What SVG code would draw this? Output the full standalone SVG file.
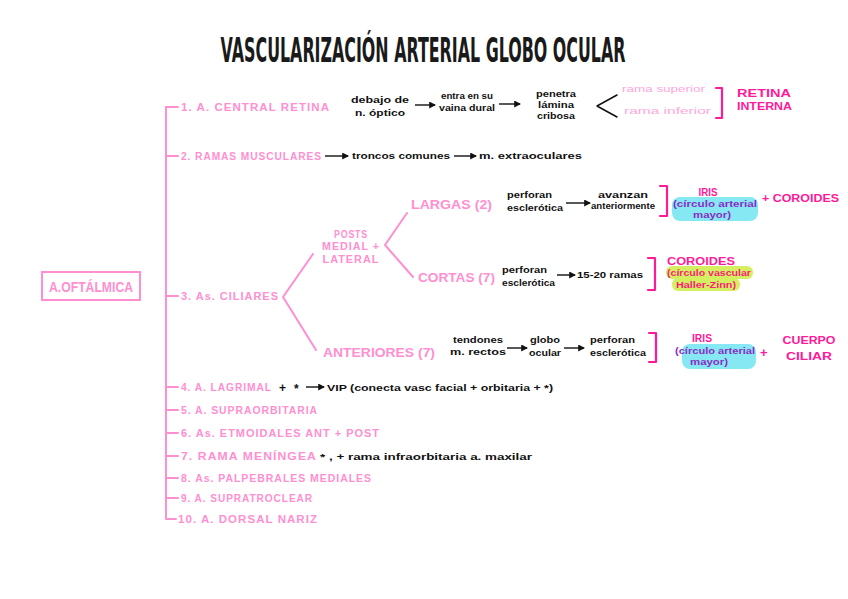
<svg xmlns="http://www.w3.org/2000/svg" width="848" height="599" viewBox="0 0 848 599">
<defs>
<style>
.bg{fill:#ffffff}
.title{font-family:"DejaVu Sans","Liberation Sans",sans-serif;font-size:34px;font-weight:bold;fill:#1a1a1a}
.lbl{font-family:"Liberation Sans",Arial,sans-serif;font-size:11px;font-weight:bold;fill:#ff8fd0;letter-spacing:1px}
.root{font-family:"Liberation Sans",Arial,sans-serif;font-size:14px;font-weight:bold;fill:#ff8fd0}
.lbl2{font-family:"Liberation Sans",Arial,sans-serif;font-size:13px;font-weight:bold;fill:#ff8fd0}
.note{font-family:"Liberation Sans",Arial,sans-serif;font-size:9px;font-weight:bold;fill:#111111}
.noteL{font-family:"Liberation Sans",Arial,sans-serif;font-size:12px;font-weight:bold;fill:#111111}
.light{font-family:"Liberation Sans",Arial,sans-serif;font-size:9px;fill:#ffa8dc}
.hot{font-family:"Liberation Sans",Arial,sans-serif;font-size:11px;font-weight:bold;fill:#ff1a9a}
.hotL{font-family:"Liberation Sans",Arial,sans-serif;font-size:13px;font-weight:bold;fill:#ff1a9a}
.purple{font-family:"Liberation Sans",Arial,sans-serif;font-size:9px;font-weight:bold;fill:#8a2bc8}
.mag{font-family:"Liberation Sans",Arial,sans-serif;font-size:9px;font-weight:bold;fill:#ff1a7a}
.pl{stroke:#ff8fd0;stroke-width:2;fill:none;stroke-linecap:round;stroke-linejoin:round}
.br{stroke:#ff1a9a;stroke-width:2.2;fill:none;stroke-linecap:round;stroke-linejoin:round}
.ar{stroke:#111111;stroke-width:1.4;fill:none;marker-end:url(#ah)}
.bk{stroke:#111111;stroke-width:1.5;fill:none;stroke-linecap:round;stroke-linejoin:round}
.cyan{fill:#86e8f2}
.lime{fill:#d4f060}
</style>
<marker id="ah" viewBox="0 0 6 6" refX="5" refY="3" markerWidth="5" markerHeight="5" orient="auto">
<path d="M0,0 L6,3 L0,6 z" fill="#111111"/>
</marker>
</defs>
<rect class="bg" x="0" y="0" width="848" height="599"/>

<text class="title" x="0" y="0" text-anchor="middle" transform="translate(423,62) scale(0.467,1)">VASCULARIZACIÓN ARTERIAL GLOBO OCULAR</text>

<g id="root">
<rect x="42" y="272" width="98" height="28" fill="none" stroke="#ff8fd0" stroke-width="2"/>
<text class="root" x="91" y="292" text-anchor="middle" textLength="84" lengthAdjust="spacingAndGlyphs">A.OFTÁLMICA</text>
</g>

<g id="connectors">
<path class="pl" d="M166,107 V519 H176"/>
<path class="pl" d="M166,107 H178 M166,156 H178 M166,296 H178 M166,387 H178 M166,410 H178 M166,433 H178 M166,456 H178 M166,478 H178 M166,498 H178"/>
<path class="pl" d="M313,254 L283,297 L316,350"/>
<path class="pl" d="M407,213 L385,245 L413,277"/>
<path class="bk" d="M617,95 L597,106 L617,117"/>
<line class="ar" x1="415" y1="105" x2="435" y2="105"/>
<line class="ar" x1="499" y1="104" x2="520" y2="104"/>
<line class="ar" x1="325" y1="156" x2="348" y2="156"/>
<line class="ar" x1="454" y1="156" x2="476" y2="156"/>
<line class="ar" x1="566" y1="203" x2="590" y2="203"/>
<line class="ar" x1="557" y1="275" x2="575" y2="275"/>
<line class="ar" x1="507" y1="348" x2="527" y2="348"/>
<line class="ar" x1="564" y1="348" x2="584" y2="348"/>
<line class="ar" x1="306" y1="387" x2="324" y2="387"/>
<path class="br" d="M716,88 H722 V118 H716"/>
<path class="br" d="M660,186 H667 V216 H660"/>
<path class="br" d="M648,258 H655 V290 H648"/>
<path class="br" d="M649,333 H656 V362 H649"/>
</g>

<g id="n1">
<text class="lbl" x="181" y="111" textLength="149" lengthAdjust="spacingAndGlyphs">1. A. CENTRAL  RETINA</text>
<text class="note" x="380" y="103" text-anchor="middle" textLength="58" lengthAdjust="spacingAndGlyphs">debajo de</text>
<text class="note" x="380" y="116" text-anchor="middle" textLength="50" lengthAdjust="spacingAndGlyphs">n. óptico</text>
<text class="note" x="467" y="99" text-anchor="middle" textLength="52" lengthAdjust="spacingAndGlyphs">entra en su</text>
<text class="note" x="467" y="111" text-anchor="middle" textLength="56" lengthAdjust="spacingAndGlyphs">vaina dural</text>
<text class="note" x="556" y="97" text-anchor="middle" textLength="40" lengthAdjust="spacingAndGlyphs">penetra</text>
<text class="note" x="556" y="108" text-anchor="middle" textLength="36" lengthAdjust="spacingAndGlyphs">lámina</text>
<text class="note" x="556" y="119" text-anchor="middle" textLength="38" lengthAdjust="spacingAndGlyphs">cribosa</text>
<text class="light" x="622" y="92" textLength="83" lengthAdjust="spacingAndGlyphs">rama  superior</text>
<text class="light" x="624" y="114" textLength="87" lengthAdjust="spacingAndGlyphs">rama  inferior</text>
<text class="hot" x="737" y="97" textLength="54" lengthAdjust="spacingAndGlyphs">RETINA</text>
<text class="hot" x="737" y="110" textLength="55" lengthAdjust="spacingAndGlyphs">INTERNA</text>
</g>

<g id="n2">
<text class="lbl" x="181" y="160" textLength="141" lengthAdjust="spacingAndGlyphs">2. RAMAS MUSCULARES</text>
<text class="note" x="352" y="159" textLength="98" lengthAdjust="spacingAndGlyphs">troncos comunes</text>
<text class="note" x="479" y="159" textLength="103" lengthAdjust="spacingAndGlyphs">m. extraoculares</text>
</g>

<g id="n3">
<text class="lbl" x="181" y="300" textLength="98" lengthAdjust="spacingAndGlyphs">3. As. CILIARES</text>
<text class="lbl" x="351" y="238" text-anchor="middle" textLength="34" lengthAdjust="spacingAndGlyphs">POSTS</text>
<text class="lbl" x="351" y="250" text-anchor="middle" textLength="58" lengthAdjust="spacingAndGlyphs">MEDIAL +</text>
<text class="lbl" x="351" y="263" text-anchor="middle" textLength="57" lengthAdjust="spacingAndGlyphs">LATERAL</text>
</g>

<g id="largas">
<text class="lbl2" x="411" y="209" textLength="81" lengthAdjust="spacingAndGlyphs">LARGAS (2)</text>
<text class="note" x="507" y="198" textLength="45" lengthAdjust="spacingAndGlyphs">perforan</text>
<text class="note" x="507" y="211" textLength="56" lengthAdjust="spacingAndGlyphs">esclerótica</text>
<text class="note" x="623" y="198" text-anchor="middle" textLength="50" lengthAdjust="spacingAndGlyphs">avanzan</text>
<text class="note" x="623" y="209" text-anchor="middle" textLength="64" lengthAdjust="spacingAndGlyphs">anteriormente</text>
<rect class="cyan" x="672" y="197" width="86" height="24" rx="8"/>
<text class="hot" x="708" y="196" text-anchor="middle" textLength="19" lengthAdjust="spacingAndGlyphs">IRIS</text>
<text class="purple" x="715" y="207" text-anchor="middle" textLength="84" lengthAdjust="spacingAndGlyphs">(círculo arterial</text>
<text class="purple" x="712" y="218" text-anchor="middle" textLength="38" lengthAdjust="spacingAndGlyphs">mayor)</text>
<text class="hot" x="762" y="202" textLength="77" lengthAdjust="spacingAndGlyphs">+ COROIDES</text>
</g>

<g id="cortas">
<text class="lbl2" x="418" y="282" textLength="77" lengthAdjust="spacingAndGlyphs">CORTAS (7)</text>
<text class="note" x="502" y="273" textLength="45" lengthAdjust="spacingAndGlyphs">perforan</text>
<text class="note" x="502" y="286" textLength="53" lengthAdjust="spacingAndGlyphs">esclerótica</text>
<text class="note" x="577" y="278" textLength="66" lengthAdjust="spacingAndGlyphs">15-20 ramas</text>
<rect class="lime" x="666" y="266" width="87" height="13" rx="6"/>
<rect class="lime" x="672" y="278" width="68" height="13" rx="6"/>
<text class="hot" x="667" y="265" textLength="68" lengthAdjust="spacingAndGlyphs">COROIDES</text>
<text class="mag" x="709" y="276" text-anchor="middle" textLength="84" lengthAdjust="spacingAndGlyphs">(círculo vascular</text>
<text class="mag" x="706" y="288" text-anchor="middle" textLength="60" lengthAdjust="spacingAndGlyphs">Haller-Zinn)</text>
</g>

<g id="anteriores">
<text class="lbl2" x="323" y="357" textLength="112" lengthAdjust="spacingAndGlyphs">ANTERIORES (7)</text>
<text class="note" x="478" y="343" text-anchor="middle" textLength="50" lengthAdjust="spacingAndGlyphs">tendones</text>
<text class="note" x="478" y="355" text-anchor="middle" textLength="56" lengthAdjust="spacingAndGlyphs">m. rectos</text>
<text class="note" x="545" y="343" text-anchor="middle" textLength="30" lengthAdjust="spacingAndGlyphs">globo</text>
<text class="note" x="545" y="356" text-anchor="middle" textLength="32" lengthAdjust="spacingAndGlyphs">ocular</text>
<text class="note" x="590" y="343" textLength="45" lengthAdjust="spacingAndGlyphs">perforan</text>
<text class="note" x="590" y="356" textLength="56" lengthAdjust="spacingAndGlyphs">esclerótica</text>
<rect class="cyan" x="682" y="344" width="74" height="25" rx="8"/>
<text class="hot" x="702" y="342" text-anchor="middle" textLength="20" lengthAdjust="spacingAndGlyphs">IRIS</text>
<text class="purple" x="715" y="354" text-anchor="middle" textLength="80" lengthAdjust="spacingAndGlyphs">(círculo arterial</text>
<text class="purple" x="709" y="365" text-anchor="middle" textLength="38" lengthAdjust="spacingAndGlyphs">mayor)</text>
<text class="hotL" x="760" y="357">+</text>
<text class="hot" x="809" y="344" text-anchor="middle" textLength="53" lengthAdjust="spacingAndGlyphs">CUERPO</text>
<text class="hot" x="809" y="360" text-anchor="middle" textLength="46" lengthAdjust="spacingAndGlyphs">CILIAR</text>
</g>

<g id="n4">
<text class="lbl" x="181" y="391" textLength="91" lengthAdjust="spacingAndGlyphs">4. A. LAGRIMAL</text>
<text class="noteL" x="279" y="392">+</text>
<text class="noteL" x="294" y="393">*</text>
<text class="note" x="327" y="391" textLength="226" lengthAdjust="spacingAndGlyphs">VIP (conecta vasc facial + orbitaria + *)</text>
</g>
<g id="n5">
<text class="lbl" x="181" y="414" textLength="137" lengthAdjust="spacingAndGlyphs">5. A. SUPRAORBITARIA</text>
</g>
<g id="n6">
<text class="lbl" x="181" y="437" textLength="199" lengthAdjust="spacingAndGlyphs">6. As. ETMOIDALES ANT + POST</text>
</g>
<g id="n7">
<text class="lbl" x="181" y="460" textLength="136" lengthAdjust="spacingAndGlyphs">7. RAMA MENÍNGEA</text>
<text class="note" x="320" y="460" textLength="212" lengthAdjust="spacingAndGlyphs">* ,  + rama infraorbitaria a. maxilar</text>
</g>
<g id="n8">
<text class="lbl" x="181" y="482" textLength="191" lengthAdjust="spacingAndGlyphs">8. As. PALPEBRALES MEDIALES</text>
</g>
<g id="n9">
<text class="lbl" x="181" y="502" textLength="132" lengthAdjust="spacingAndGlyphs">9. A. SUPRATROCLEAR</text>
</g>
<g id="n10">
<text class="lbl" x="178" y="523" textLength="140" lengthAdjust="spacingAndGlyphs">10. A. DORSAL NARIZ</text>
</g>
</svg>
